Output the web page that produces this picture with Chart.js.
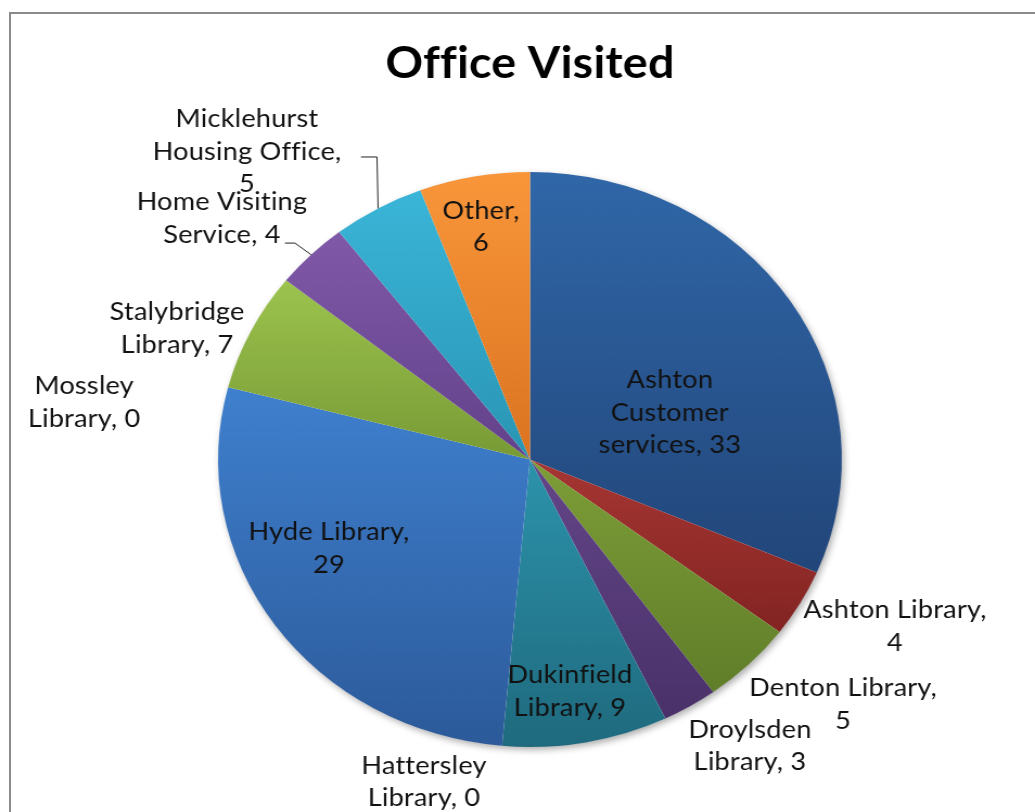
<!DOCTYPE html>
<html>
<head>
<meta charset="utf-8">
<script src="https://cdn.jsdelivr.net/npm/chart.js@4/dist/chart.umd.min.js"></script>
<style>
  html, body { margin: 0; padding: 0; background: #ffffff; overflow: hidden; }
  #wrap { position: relative; width: 1035px; height: 812px; }
  #frame { position: absolute; left: 9px; top: 12px; width: 1100px; height: 900px;
           border-left: 2px solid #8a8a8a; border-top: 2px solid #8a8a8a; box-sizing: border-box; }
  #c { position: absolute; left: 0; top: 0; width: 1035px; height: 812px; font-variant-ligatures: none; }
</style>
</head>
<body>
<div id="wrap">
  <div id="frame"></div>
  <canvas id="c" width="954" height="812" style="width:1035px;height:812px"></canvas>
</div>
<script>
// ---- data ----
const categories = [
  'Ashton Customer services', 'Ashton Library', 'Denton Library', 'Droylsden Library',
  'Dukinfield Library', 'Hattersley Library', 'Hyde Library', 'Mossley Library',
  'Stalybridge Library', 'Home Visiting Service', 'Micklehurst Housing Office', 'Other'
];
const visits = [33, 4, 5, 3, 9, 0, 29, 0, 7, 4, 5, 6];
const chartTitle = 'Office Visited';

// ---- styles ----
const colorTop = ['#3067A8','#A63633','#7D9D38','#634689','#2C93AB','#F79646',
                  '#3F80CE','#C0504D','#9CC34E','#8059A8','#3AB5D8','#F9963A'];
const colorBottom = ['#22467A','#822422','#607E29','#4A3169','#1F6A7E','#B45F1F',
                     '#2C5A9A','#8C3836','#789A35','#62428A','#2A95B4','#DB7320'];

// label layout: radial factor along slice middle, nudge (px), wrap width, optional leader
const labelLayout = [
  {f:0.5, dx:9,      dy:32.2,  wrap:150},
  {f:1.0, dx:87.4,   dy:23.3,  wrap:174},
  {f:1.0, dx:86.8,   dy:40.1,  wrap:176},
  {f:1.0, dx:55.3,   dy:39.4,  wrap:140},
  {f:0.8, dx:-4.2,   dy:5.7,   wrap:130},
  {f:1.0, dx:-71.9,  dy:36.2,  wrap:130},
  {f:0.7, dx:-20.7,  dy:-26.8, wrap:150},
  {f:1.0, dx:-132.7, dy:15.3,  wrap:130},
  {f:1.0, dx:-68.1,  dy:-2.4,  wrap:140},
  {f:1.0, dx:-82.2,  dy:-36.1, wrap:160, leader:[[-14.9,-11.6],[-24.1,-11.6]]},
  {f:1.0, dx:-120.8, dy:-56.9, wrap:181, leader:[[-1,-51.4],[-15.8,-51.4]]},
  {f:0.8, dx:-4.1,   dy:-6.2,  wrap:75}
];
const labelFont = '25px Lato';
const lineH = 32.5;

function noLigatures(ctx) {
  try { ctx.textRendering = 'optimizeSpeed'; } catch (e) {}
  try { ctx.letterSpacing = '0.2px'; } catch (e) {}
}

function sliceGradient(ctx) {
  const chart = ctx.chart;
  const i = ctx.dataIndex;
  const area = chart.chartArea;
  if (!area) return colorTop[i];
  const cx = (area.left + area.right) / 2, cy = (area.top + area.bottom) / 2;
  const r = Math.min(area.right - area.left, area.bottom - area.top) / 2;
  const total = visits.reduce((a, b) => a + b, 0);
  let cum = 0;
  for (let k = 0; k < i; k++) cum += visits[k];
  const a0 = -Math.PI / 2 + cum / total * 2 * Math.PI;
  const a1 = a0 + visits[i] / total * 2 * Math.PI;
  const ys = [cy, cy + r * Math.sin(a0), cy + r * Math.sin(a1)];
  const inRange = (a) => { for (let t = a - 4 * Math.PI; t <= a + 4 * Math.PI; t += 2 * Math.PI) { if (t >= a0 && t <= a1) return true; } return false; };
  if (inRange(Math.PI / 2)) ys.push(cy + r);
  if (inRange(-Math.PI / 2)) ys.push(cy - r);
  let y0 = Math.min(...ys), y1 = Math.max(...ys);
  if (y1 - y0 < 1) y1 = y0 + 1;
  const g = chart.ctx.createLinearGradient(0, y0, 0, y1);
  g.addColorStop(0, colorTop[i]);
  g.addColorStop(1, colorBottom[i]);
  return g;
}

function wrapText(ctx, text, maxW) {
  const words = text.split(' ');
  const lines = [];
  let cur = '';
  for (const w of words) {
    const test = cur ? cur + ' ' + w : w;
    if (cur && ctx.measureText(test).width > maxW) { lines.push(cur); cur = w; }
    else cur = test;
  }
  if (cur) lines.push(cur);
  return lines;
}

const textStatePlugin = {
  id: 'textState',
  beforeDraw(chart) { noLigatures(chart.ctx); }
};

const shadowPlugin = {
  id: 'pieShadow',
  beforeDatasetsDraw(chart) {
    const arc = chart.getDatasetMeta(0).data[0];
    if (!arc) return;
    const ctx = chart.ctx;
    ctx.save();
    ctx.shadowColor = 'rgba(0,0,0,0.35)';
    ctx.shadowBlur = 7;
    ctx.shadowOffsetX = 2;
    ctx.shadowOffsetY = 3;
    ctx.fillStyle = '#ffffff';
    ctx.beginPath();
    ctx.arc(arc.x, arc.y, arc.outerRadius - 0.5, 0, Math.PI * 2);
    ctx.fill();
    ctx.restore();
  }
};

const labelPlugin = {
  id: 'sliceLabels',
  afterDatasetsDraw(chart) {
    const meta = chart.getDatasetMeta(0);
    const ctx = chart.ctx;
    ctx.save();
    noLigatures(ctx);
    ctx.font = labelFont;
    ctx.fillStyle = '#111111';
    ctx.textAlign = 'center';
    ctx.textBaseline = 'middle';
    meta.data.forEach((arc, i) => {
      const L = labelLayout[i];
      const mid = (arc.startAngle + arc.endAngle) / 2;
      const R = arc.outerRadius;
      const ex = arc.x + R * Math.cos(mid), ey = arc.y + R * Math.sin(mid);
      const bx = arc.x + L.f * R * Math.cos(mid) + L.dx;
      const by = arc.y + L.f * R * Math.sin(mid) + L.dy;
      const lines = wrapText(ctx, categories[i] + ', ' + visits[i], L.wrap);
      lines.forEach((ln, k) => {
        ctx.fillText(ln, bx, by + (k - (lines.length - 1) / 2) * lineH);
      });
      if (L.leader) {
        ctx.save();
        ctx.strokeStyle = '#222222';
        ctx.lineWidth = 1;
        ctx.beginPath();
        ctx.moveTo(ex, ey);
        L.leader.forEach(p => ctx.lineTo(ex + p[0], ey + p[1]));
        ctx.stroke();
        ctx.restore();
      }
    });
    ctx.restore();
  }
};

new Chart(document.getElementById('c'), {
  type: 'pie',
  data: {
    labels: categories,
    datasets: [{
      data: visits,
      backgroundColor: sliceGradient,
      borderWidth: 0,
      hoverOffset: 0
    }]
  },
  options: {
    responsive: false,
    animation: false,
    devicePixelRatio: 1,
    layout: { padding: { top: 0, bottom: 65, left: 201, right: 178 } },
    plugins: {
      legend: { display: false },
      tooltip: { enabled: false },
      title: {
        display: true,
        text: chartTitle,
        color: '#000000',
        font: { family: 'Lato', size: 43, weight: 'bold', lineHeight: 1.2 },
        padding: { top: 38, bottom: 82.4 }
      }
    }
  },
  plugins: [textStatePlugin, shadowPlugin, labelPlugin]
});
</script>
</body>
</html>
